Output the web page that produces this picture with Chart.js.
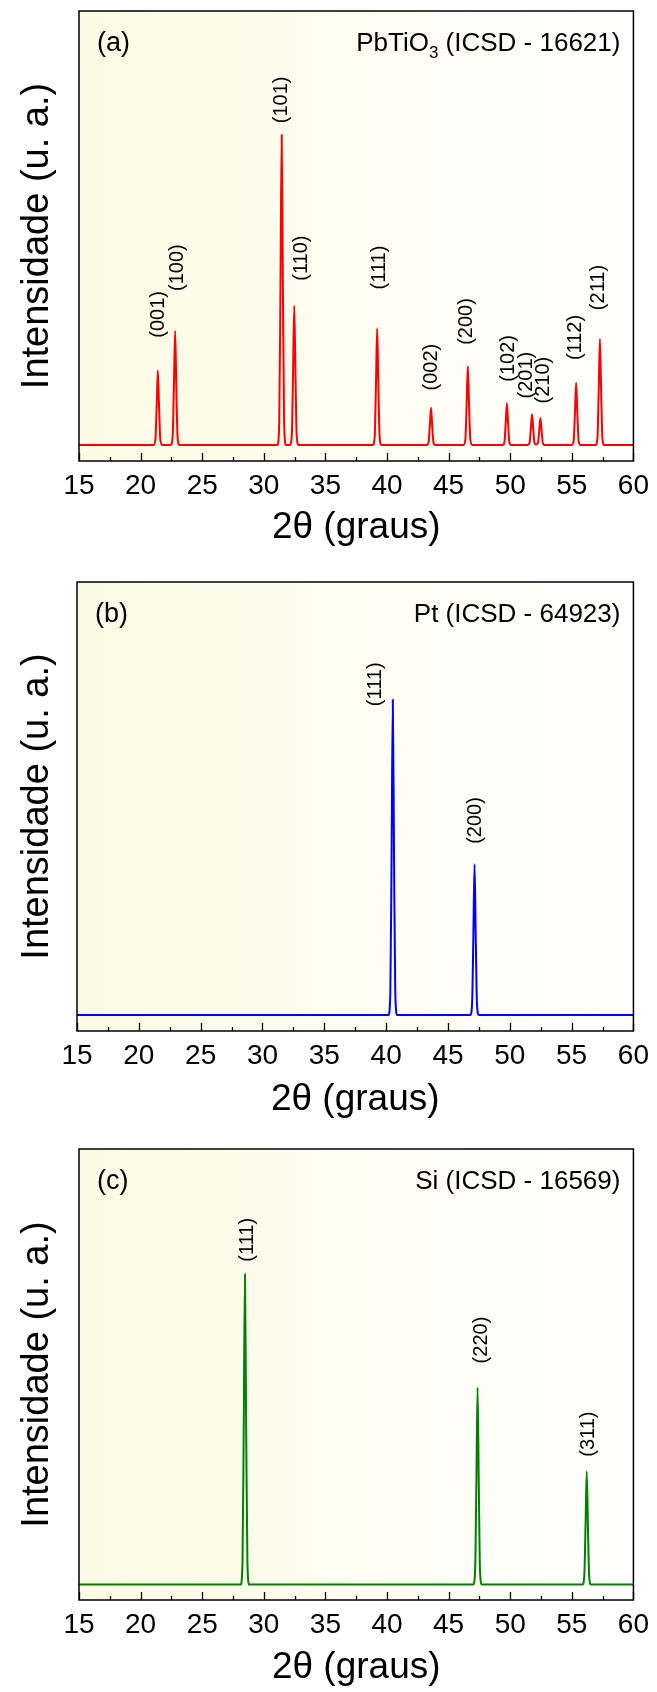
<!DOCTYPE html>
<html>
<head>
<meta charset="utf-8">
<script src="https://cdn.jsdelivr.net/npm/chart.js@4.4.1/dist/chart.umd.min.js"></script>
<style>
  html, body { margin: 0; padding: 0; background: #ffffff; }
  body { width: 657px; height: 1692px; position: relative; overflow: hidden; }
  canvas { position: absolute; left: 0; }
</style>
</head>
<body>
<canvas id="chart-a" width="657" height="568" style="top:0px"></canvas>
<canvas id="chart-b" width="657" height="560" style="top:571px"></canvas>
<canvas id="chart-c" width="657" height="554" style="top:1138px"></canvas>
<script>
// XRD reference patterns (relative intensity, strongest peak = 100)

// (a) PbTiO3
const pbtio3Angles = [
  15,
  21.05, 21.20, 21.30, 21.40, 21.50, 21.60, 21.75,
  22.45, 22.60, 22.70, 22.80, 22.90, 23.00, 23.15,
  31.10, 31.25, 31.35, 31.45, 31.55, 31.65, 31.80,
  32.12, 32.27, 32.37, 32.47, 32.57, 32.67, 32.82,
  38.85, 39.00, 39.10, 39.20, 39.30, 39.40, 39.55,
  43.22, 43.37, 43.47, 43.57, 43.67, 43.77, 43.92,
  46.21, 46.36, 46.46, 46.56, 46.66, 46.76, 46.91,
  49.38, 49.53, 49.63, 49.73, 49.83, 49.93, 50.08,
  51.42, 51.57, 51.67, 51.77, 51.87, 51.97, 52.11, 52.25, 52.35, 52.45, 52.55, 52.65, 52.80,
  55.00, 55.15, 55.25, 55.35, 55.45, 55.55, 55.70,
  56.93, 57.08, 57.18, 57.28, 57.38, 57.48, 57.63,
  60
];
const pbtio3Intensity = [
  0,
  0, 1.7, 12.0, 24.0, 12.0, 1.7, 0,
  0, 2.6, 18.4, 36.8, 18.4, 2.6, 0,
  0, 7.0, 50.0, 100, 50.0, 7.0, 0,
  0, 3.1, 22.5, 44.9, 22.5, 3.1, 0,
  0, 2.6, 18.8, 37.6, 18.8, 2.6, 0,
  0, 0.8, 6.0, 12.0, 6.0, 0.8, 0,
  0, 1.8, 12.7, 25.4, 12.7, 1.8, 0,
  0, 0.9, 6.8, 13.5, 6.8, 0.9, 0,
  0, 0.7, 5.0, 9.9, 5.0, 0.7, 0.2, 0.6, 4.4, 8.7, 4.4, 0.6, 0,
  0, 1.4, 10.1, 20.1, 10.1, 1.4, 0,
  0, 2.4, 17.1, 34.2, 17.1, 2.4, 0,
  0
];
const pbtio3Hkl = ['(001)', '(100)', '(101)', '(110)', '(111)', '(002)', '(200)', '(102)', '(201)', '(210)', '(112)', '(211)'];
const pbtio3HklAngle = [21.48, 22.98, 31.45, 33.09, 39.41, 43.57, 46.45, 49.84, 51.29, 52.72, 55.32, 57.15];
const pbtio3HklLevel = [34.6, 49.7, 103.8, 53.0, 50.2, 17.6, 32.3, 20.4, 15.0, 13.4, 27.4, 43.5];

// (b) Pt
const ptAngles = [15, 40.19, 40.34, 40.44, 40.54, 40.64, 40.74, 40.89, 46.80, 46.95, 47.05, 47.15, 47.25, 47.35, 47.50, 60];
const ptIntensity = [0, 0, 7.0, 50.0, 100, 50.0, 7.0, 0, 0, 3.3, 23.9, 47.8, 23.9, 3.3, 0, 0];
const ptHkl = ['(111)', '(200)'];
const ptHklAngle = [39.10, 47.19];
const ptHklLevel = [98.0, 54.3];

// (c) Si
const siAngles = [15, 28.12, 28.27, 28.37, 28.47, 28.57, 28.67, 28.82, 47.00, 47.15, 47.25, 47.35, 47.45, 47.55, 47.70, 55.86, 56.01, 56.11, 56.21, 56.31, 56.41, 56.56, 60];
const siIntensity = [0, 0, 7.0, 50.0, 100, 50.0, 7.0, 0, 0, 4.4, 31.8, 63.5, 31.8, 4.4, 0, 0, 2.6, 18.3, 36.5, 18.3, 2.6, 0, 0];
const siHkl = ['(111)', '(220)', '(311)'];
const siHklAngle = [28.70, 47.65, 56.34];
const siHklLevel = [104.1, 71.3, 41.2];

const xTicksMajor = [15, 20, 25, 30, 35, 40, 45, 50, 55, 60];

const FONT = '"Liberation Sans", Arial, Helvetica, sans-serif';

// draws panel background, frame, inward ticks and text annotations
const xrdPlugin = {
  id: 'xrdDecor',
  beforeDatasetsDraw(chart, args, opts) {
    const { ctx, chartArea: a } = chart;
    const grad = ctx.createLinearGradient(a.left, 0, a.right, 0);
    grad.addColorStop(0, '#fbfbe4');
    grad.addColorStop(1, '#ffffff');
    ctx.save();
    ctx.fillStyle = grad;
    ctx.fillRect(a.left, a.top, a.right - a.left, a.bottom - a.top);
    ctx.restore();
  },
  afterDatasetsDraw(chart, args, opts) {
    const { ctx, chartArea: a, scales } = chart;
    const xs = scales.x;
    const ys = scales.y;

    ctx.save();
    ctx.strokeStyle = '#000';
    ctx.lineWidth = 1.5;
    ctx.strokeRect(a.left, a.top, a.right - a.left, a.bottom - a.top);

    // major + minor ticks pointing into the plot
    ctx.lineWidth = 1.3;
    ctx.beginPath();
    xTicksMajor.forEach((v, i) => {
      const px = Math.round(xs.getPixelForValue(v)) + 0.5;
      ctx.moveTo(px, a.bottom);
      ctx.lineTo(px, a.bottom - 8);
      if (i < xTicksMajor.length - 1) {
        const mx = Math.round(xs.getPixelForValue(v + 2.5)) + 0.5;
        ctx.moveTo(mx, a.bottom);
        ctx.lineTo(mx, a.bottom - 4);
      }
    });
    ctx.stroke();

    // panel tag
    ctx.fillStyle = '#000';
    ctx.textBaseline = 'middle';
    ctx.font = '27px ' + FONT;
    ctx.textAlign = 'left';
    ctx.fillText(opts.tag, a.left + 18, a.top + 33);

    // phase name (right aligned, with optional subscript)
    const mainFont = '26px ' + FONT;
    const subFont = '17px ' + FONT;
    let total = 0;
    opts.name.forEach(part => {
      ctx.font = part.sub ? subFont : mainFont;
      total += ctx.measureText(part.text).width;
    });
    let x = a.right - 13 - total;
    opts.name.forEach(part => {
      ctx.font = part.sub ? subFont : mainFont;
      ctx.fillText(part.text, x, a.top + 33 + (part.sub ? 9 : 0));
      x += ctx.measureText(part.text).width;
    });

    // Miller indices, rotated
    ctx.font = '20px ' + FONT;
    opts.hkl.forEach((t, i) => {
      const px = xs.getPixelForValue(opts.hklAngle[i]);
      const py = ys.getPixelForValue(opts.hklLevel[i]);
      ctx.save();
      ctx.translate(px, py);
      ctx.rotate(-Math.PI / 2);
      ctx.textAlign = 'left';
      ctx.textBaseline = 'middle';
      ctx.fillText(t, 0, 0);
      ctx.restore();
    });
    ctx.restore();
  }
};

function buildChart(canvasId, p) {
  const canvas = document.getElementById(canvasId);
  const height = canvas.height;

  return new Chart(canvas, {
    type: 'line',
    data: {
      datasets: [{
        data: p.angles.map((a, i) => ({ x: a, y: p.intensity[i] })),
        borderColor: p.color,
        borderWidth: 2,
        pointRadius: 0,
        fill: false,
        cubicInterpolationMode: 'monotone'
      }]
    },
    options: {
      responsive: false,
      animation: false,
      events: [],
      layout: {
        padding: { top: p.top, right: 657 - p.right, bottom: 0, left: 0 }
      },
      plugins: {
        legend: { display: false },
        tooltip: { enabled: false },
        xrdDecor: {
          tag: p.tag,
          name: p.name,
          hkl: p.hkl,
          hklAngle: p.hklAngle,
          hklLevel: p.hklLevel
        }
      },
      scales: {
        x: {
          type: 'linear',
          min: 15,
          max: 60,
          afterBuildTicks: (scale) => {
            scale.ticks = xTicksMajor.map(v => ({ value: v }));
          },
          ticks: {
            color: '#000',
            font: { family: FONT, size: 28 },
            padding: 8,
            maxRotation: 0,
            autoSkip: false
          },
          grid: { display: false, drawTicks: false },
          border: { display: false },
          title: {
            display: true,
            text: '2θ (graus)',
            color: '#000',
            font: { family: FONT, size: 37 },
            padding: { top: 0, bottom: height - p.bottom - p.titleGap - 22.2 }
          },
          afterFit: (scale) => {
            scale.height = height - p.bottom;
          }
        },
        y: {
          min: p.yMin,
          max: p.yMax,
          ticks: { display: false },
          grid: { display: false, drawTicks: false },
          border: { display: false },
          title: {
            display: true,
            text: 'Intensidade (u. a.)',
            color: '#000',
            font: { family: FONT, size: 38 },
            padding: { top: 15, bottom: 0 }
          },
          afterFit: (scale) => {
            scale.width = p.left;
          }
        }
      }
    },
    plugins: [xrdPlugin]
  });
}

buildChart('chart-a', {
  angles: pbtio3Angles, intensity: pbtio3Intensity, color: '#ff0000',
  hkl: pbtio3Hkl, hklAngle: pbtio3HklAngle, hklLevel: pbtio3HklLevel,
  tag: '(a)',
  name: [{ text: 'PbTiO' }, { text: '3', sub: true }, { text: ' (ICSD - 16621)' }],
  left: 79, right: 637, top: 11, bottom: 461, titleGap: 67,
  yMin: -5.16, yMax: 140.0
});

buildChart('chart-b', {
  angles: ptAngles, intensity: ptIntensity, color: '#0000ff',
  hkl: ptHkl, hklAngle: ptHklAngle, hklLevel: ptHklLevel,
  tag: '(b)',
  name: [{ text: 'Pt (ICSD - 64923)' }],
  left: 77, right: 635, top: 11, bottom: 460, titleGap: 69,
  yMin: -5.08, yMax: 137.4
});

buildChart('chart-c', {
  angles: siAngles, intensity: siIntensity, color: '#008000',
  hkl: siHkl, hklAngle: siHklAngle, hklLevel: siHklLevel,
  tag: '(c)',
  name: [{ text: 'Si (ICSD - 16569)' }],
  left: 79, right: 637, top: 11, bottom: 462, titleGap: 68,
  yMin: -4.96, yMax: 140.4
});
</script>
</body>
</html>
